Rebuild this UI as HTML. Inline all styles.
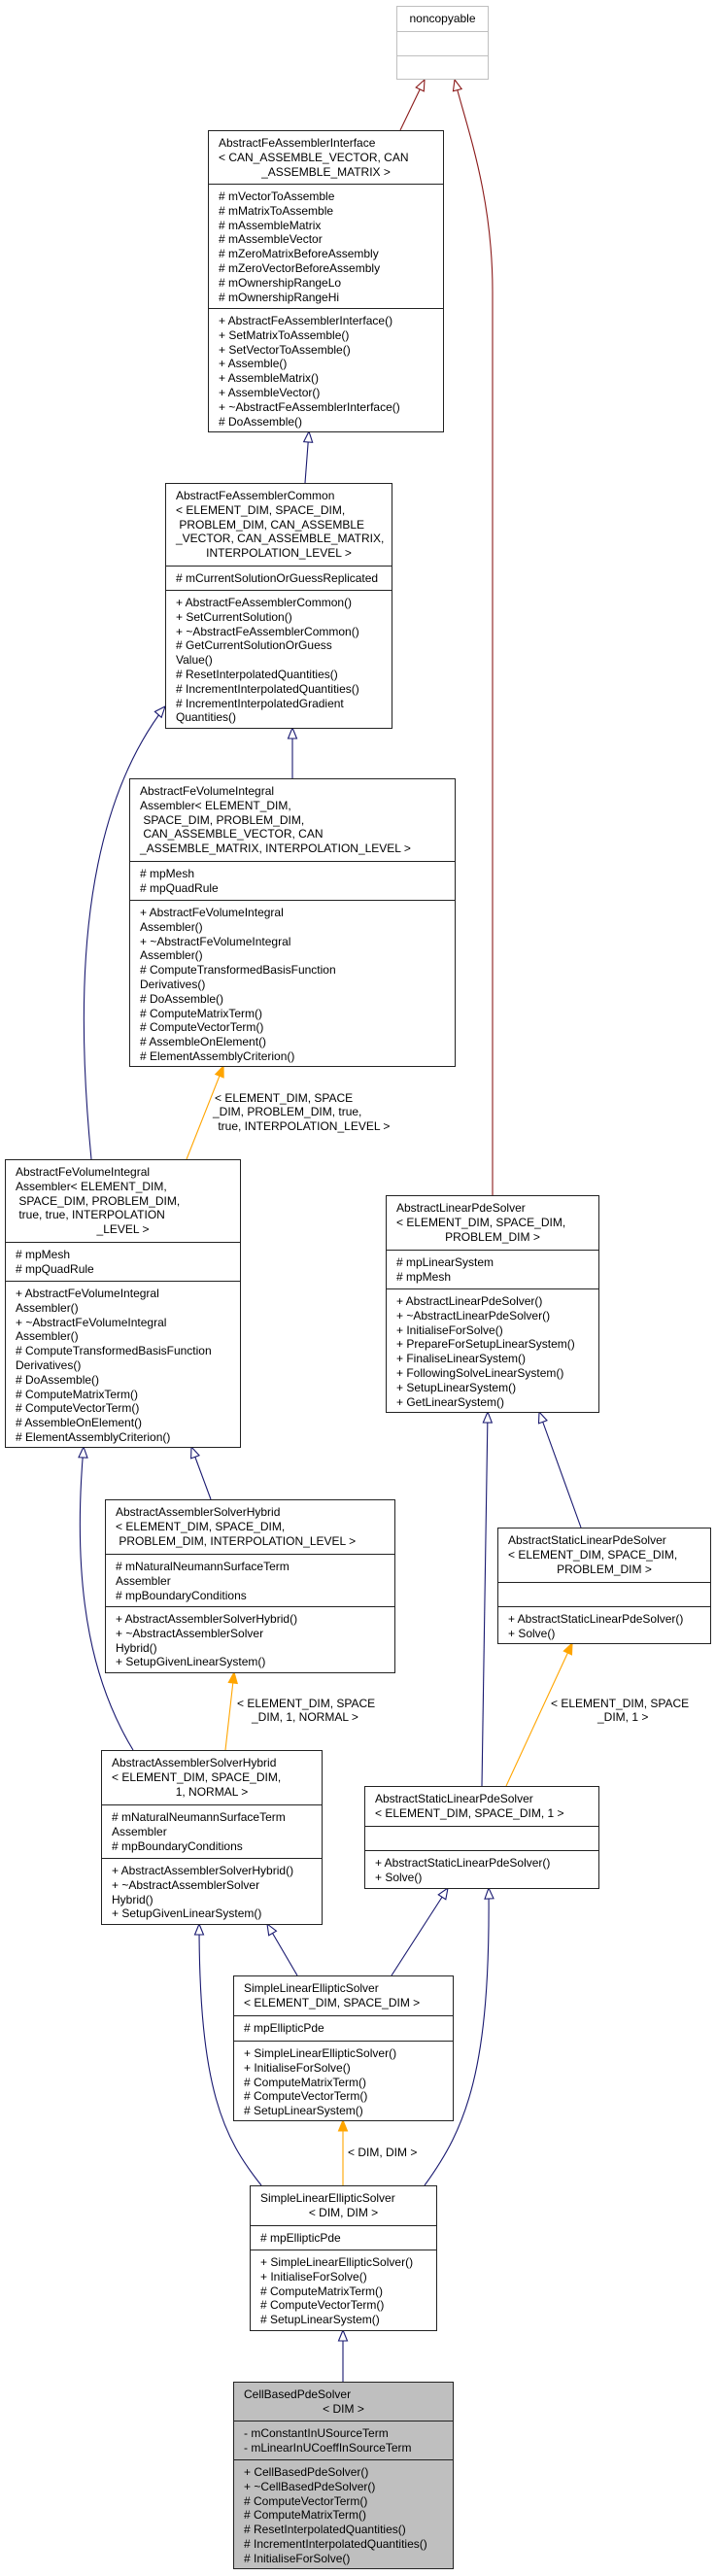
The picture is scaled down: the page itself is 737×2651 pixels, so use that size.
<!DOCTYPE html>
<html><head><meta charset="utf-8">
<style>
html,body{margin:0;padding:0;background:#fff;}
body{width:737px;height:2651px;position:relative;overflow:hidden;font-family:"Liberation Sans",sans-serif;font-size:12px;color:#000;}
.box{position:absolute;box-sizing:border-box;border:1.3px solid #222;background:#fff;}
.sec{box-sizing:border-box;padding:5px 0 0 10px;overflow:hidden;white-space:pre;line-height:14.8px;}
.sec+.sec{border-top:1.3px solid #222;}
.c{text-align:center;padding-right:10px;}
.lbl{position:absolute;white-space:pre;line-height:14.8px;}
svg{position:absolute;left:0;top:0;}
</style></head><body>
<svg id="s" width="737" height="2651" xmlns="http://www.w3.org/2000/svg"></svg>
<div id="boxes"></div>
<script>
var B=[
[408,6,95,[25,25,25],[["noncopyable",1]],[],[],'#bfbfbf',0],
[214,134,243,[54,128,128],[["AbstractFeAssemblerInterface"],["< CAN_ASSEMBLE_VECTOR, CAN"],["_ASSEMBLE_MATRIX >",1]],
 ["# mVectorToAssemble","# mMatrixToAssemble","# mAssembleMatrix","# mAssembleVector","# mZeroMatrixBeforeAssembly","# mZeroVectorBeforeAssembly","# mOwnershipRangeLo","# mOwnershipRangeHi"],
 ["+ AbstractFeAssemblerInterface()","+ SetMatrixToAssemble()","+ SetVectorToAssemble()","+ Assemble()","+ AssembleMatrix()","+ AssembleVector()","+ ~AbstractFeAssemblerInterface()","# DoAssemble()"]],
[170,497,234,[84,25,143],[["AbstractFeAssemblerCommon"],["< ELEMENT_DIM, SPACE_DIM,"],[" PROBLEM_DIM, CAN_ASSEMBLE"],["_VECTOR, CAN_ASSEMBLE_MATRIX,"],["INTERPOLATION_LEVEL >",1]],
 ["# mCurrentSolutionOrGuessReplicated"],
 ["+ AbstractFeAssemblerCommon()","+ SetCurrentSolution()","+ ~AbstractFeAssemblerCommon()","# GetCurrentSolutionOrGuess","Value()","# ResetInterpolatedQuantities()","# IncrementInterpolatedQuantities()","# IncrementInterpolatedGradient","Quantities()"]],
[133,801,336,[84,40,172],[["AbstractFeVolumeIntegral"],["Assembler< ELEMENT_DIM,"],[" SPACE_DIM, PROBLEM_DIM,"],[" CAN_ASSEMBLE_VECTOR, CAN"],["_ASSEMBLE_MATRIX, INTERPOLATION_LEVEL >"]],
 ["# mpMesh","# mpQuadRule"],
 ["+ AbstractFeVolumeIntegral","Assembler()","+ ~AbstractFeVolumeIntegral","Assembler()","# ComputeTransformedBasisFunction","Derivatives()","# DoAssemble()","# ComputeMatrixTerm()","# ComputeVectorTerm()","# AssembleOnElement()","# ElementAssemblyCriterion()"]],
[5,1193,243,[84,40,172],[["AbstractFeVolumeIntegral"],["Assembler< ELEMENT_DIM,"],[" SPACE_DIM, PROBLEM_DIM,"],[" true, true, INTERPOLATION"],["_LEVEL >",1]],
 ["# mpMesh","# mpQuadRule"],
 ["+ AbstractFeVolumeIntegral","Assembler()","+ ~AbstractFeVolumeIntegral","Assembler()","# ComputeTransformedBasisFunction","Derivatives()","# DoAssemble()","# ComputeMatrixTerm()","# ComputeVectorTerm()","# AssembleOnElement()","# ElementAssemblyCriterion()"]],
[397,1230,220,[55,40,128],[["AbstractLinearPdeSolver"],["< ELEMENT_DIM, SPACE_DIM,"],["PROBLEM_DIM >",1]],
 ["# mpLinearSystem","# mpMesh"],
 ["+ AbstractLinearPdeSolver()","+ ~AbstractLinearPdeSolver()","+ InitialiseForSolve()","+ PrepareForSetupLinearSystem()","+ FinaliseLinearSystem()","+ FollowingSolveLinearSystem()","+ SetupLinearSystem()","+ GetLinearSystem()"]],
[108,1543,299,[55,54,69],[["AbstractAssemblerSolverHybrid"],["< ELEMENT_DIM, SPACE_DIM,"],[" PROBLEM_DIM, INTERPOLATION_LEVEL >"]],
 ["# mNaturalNeumannSurfaceTerm","Assembler","# mpBoundaryConditions"],
 ["+ AbstractAssemblerSolverHybrid()","+ ~AbstractAssemblerSolver","Hybrid()","+ SetupGivenLinearSystem()"]],
[512,1572,220,[55,25,39],[["AbstractStaticLinearPdeSolver"],["< ELEMENT_DIM, SPACE_DIM,"],["PROBLEM_DIM >",1]],
 [],["+ AbstractStaticLinearPdeSolver()","+ Solve()"]],
[104,1801,228,[55,55,69],[["AbstractAssemblerSolverHybrid"],["< ELEMENT_DIM, SPACE_DIM,"],["1, NORMAL >",1]],
 ["# mNaturalNeumannSurfaceTerm","Assembler","# mpBoundaryConditions"],
 ["+ AbstractAssemblerSolverHybrid()","+ ~AbstractAssemblerSolver","Hybrid()","+ SetupGivenLinearSystem()"]],
[375,1838,242,[40,25,40],[["AbstractStaticLinearPdeSolver"],["< ELEMENT_DIM, SPACE_DIM, 1 >"]],
 [],["+ AbstractStaticLinearPdeSolver()","+ Solve()"]],
[240,2033,227,[40,26,83],[["SimpleLinearEllipticSolver"],["< ELEMENT_DIM, SPACE_DIM >"]],
 ["# mpEllipticPde"],["+ SimpleLinearEllipticSolver()","+ InitialiseForSolve()","# ComputeMatrixTerm()","# ComputeVectorTerm()","# SetupLinearSystem()"]],
[257,2249,193,[40,25,84],[["SimpleLinearEllipticSolver"],["< DIM, DIM >",1]],
 ["# mpEllipticPde"],["+ SimpleLinearEllipticSolver()","+ InitialiseForSolve()","# ComputeMatrixTerm()","# ComputeVectorTerm()","# SetupLinearSystem()"]],
[240,2451,227,[39,40,113],[["CellBasedPdeSolver"],["< DIM >",1]],
 ["- mConstantInUSourceTerm","- mLinearInUCoeffInSourceTerm"],
 ["+ CellBasedPdeSolver()","+ ~CellBasedPdeSolver()","# ComputeVectorTerm()","# ComputeMatrixTerm()","# ResetInterpolatedQuantities()","# IncrementInterpolatedQuantities()","# InitialiseForSolve()"],'#222',1]
];
var host=document.getElementById('boxes');
B.forEach(function(b){
  var d=document.createElement('div');d.className='box';
  d.style.left=b[0]+'px';d.style.top=b[1]+'px';d.style.width=b[2]+'px';
  var h=b[3][0]+b[3][1]+b[3][2];d.style.height=(h+1)+'px';
  if(b[7])d.style.borderColor=b[7];
  if(b[8])d.style.background='#bfbfbf';
  for(var i=0;i<3;i++){
    var s=document.createElement('div');s.className='sec';
    s.style.height=b[3][i]+'px';
    if(b[7])s.style.borderColor=b[7];
    if(i==0){b[4].forEach(function(l){var x=document.createElement('div');x.textContent=l[0];if(l[1])x.className='c';s.appendChild(x);});}
    else{(i==1?b[5]:b[6]).forEach(function(l){var x=document.createElement('div');x.textContent=l;s.appendChild(x);});}
    d.appendChild(s);
  }
  host.appendChild(d);
});
var L=[[221,1130,"< ELEMENT_DIM, SPACE"],[219,1144,"_DIM, PROBLEM_DIM, true,"],[221,1159," true, INTERPOLATION_LEVEL >"],
[244,1753,"< ELEMENT_DIM, SPACE"],[259,1767,"_DIM, 1, NORMAL >"],
[567,1753,"< ELEMENT_DIM, SPACE"],[615,1767,"_DIM, 1 >"],[358,2215,"< DIM, DIM >"]];
L.forEach(function(l){var x=document.createElement('div');x.className='lbl';x.style.left=l[0]+'px';x.style.top=(l[1]-7.4)+'px';x.textContent=l[2];host.appendChild(x);});
var BL='#191970',RD='#8b1a1a',OR='#ffa500';
// [path, color, tipx, tipy, fromx, fromy]
var E=[
["M412,134 L437,82",RD,437,82,412,134],
["M507,1230 L507,300 C507,200 480,130 468,82",RD,468,82,478,120],
["M314,497 L318,444",BL,318,444,314,497],
["M301,801 L301,749",BL,301,749,301,801],
["M94,1193 C80,1050 75,850 170,727",BL,170,727,150,750],
["M192,1193 L230,1097",OR,230,1097,192,1193],
["M217,1543 L197,1489",BL,197,1489,217,1543],
["M137,1801 C100,1740 72,1650 86,1489",BL,86,1489,85,1510],
["M232,1801 L241,1721",OR,241,1721,232,1801],
["M598,1572 L555,1453",BL,555,1453,598,1572],
["M496,1838 L502,1453",BL,502,1453,496,1838],
["M521,1838 L589,1691",OR,589,1691,521,1838],
["M306,2033 L275,1980",BL,275,1980,306,2033],
["M403,2033 L461,1943",BL,461,1943,403,2033],
["M269,2249 C230,2200 205,2150 205,1980",BL,205,1980,205,2000],
["M437,2249 C480,2190 505,2130 503,1943",BL,503,1943,504,1965],
["M353,2249 L353,2182",OR,353,2182,353,2249],
["M353,2451 L353,2398",BL,353,2398,353,2451]
];
var svg=document.getElementById('s'),ns='http://www.w3.org/2000/svg',out='';
E.forEach(function(e){
  out+='<path d="'+e[0]+'" fill="none" stroke="'+e[1]+'" stroke-width="1.1"/>';
  var dx=e[2]-e[4],dy=e[3]-e[5],m=Math.sqrt(dx*dx+dy*dy);dx/=m;dy/=m;
  var bx=e[2]-dx*11,by=e[3]-dy*11,nx=-dy*4.5,ny=dx*4.5;
  var f=e[1]==OR?OR:'#fff';
  out+='<polygon points="'+e[2]+','+e[3]+' '+(bx+nx)+','+(by+ny)+' '+(bx-nx)+','+(by-ny)+'" fill="'+f+'" stroke="'+e[1]+'" stroke-width="1.1"/>';
});
svg.innerHTML=out;
</script>
</body></html>
